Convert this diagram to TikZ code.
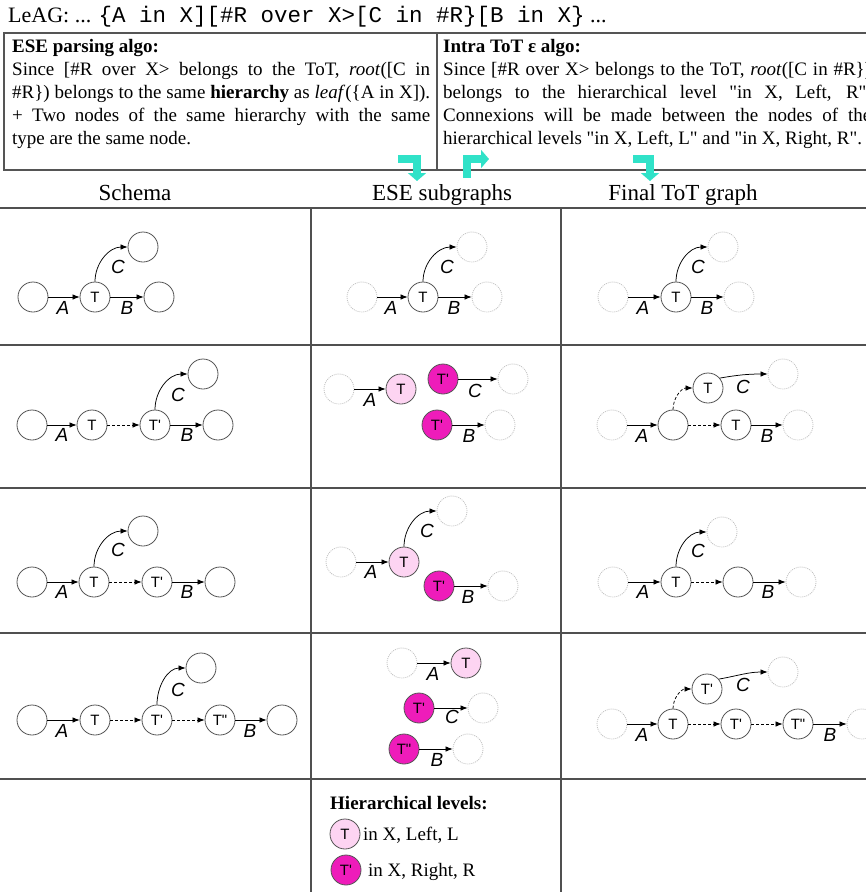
\documentclass[tikz,border=0pt]{standalone}
\usepackage{fontspec}
\newfontfamily\fserif{Liberation Serif}
\newfontfamily\fsans{Liberation Sans}
\newfontfamily\fmono{Liberation Mono}
\usetikzlibrary{arrows.meta}
\definecolor{tealA}{RGB}{48,226,200}
\definecolor{pinkL}{RGB}{253,212,242}
\definecolor{magR}{RGB}{238,28,186}
\definecolor{lineg}{RGB}{85,85,85}
\definecolor{dotg}{RGB}{195,195,195}
\definecolor{tblg}{RGB}{80,80,80}
\begin{document}
\begin{tikzpicture}[x=1pt,y=1pt,
  nd/.style={circle,draw=lineg,line width=0.8pt,minimum size=30pt,inner sep=0pt,font=\fsans\fontsize{15}{15}\selectfont},
  gh/.style={circle,draw=dotg,dash pattern=on 1pt off 1pt,line width=0.8pt,minimum size=30pt,inner sep=0pt},
  lnode/.style={nd,fill=pinkL},
  rnode/.style={nd,fill=magR},
  arr/.style={-{Latex[length=7pt,width=5.5pt]},line width=0.75pt,black},
  darr/.style={arr,dash pattern=on 3pt off 2pt},
  lab/.style={font=\fsans\itshape\fontsize{19}{19}\selectfont,inner sep=0pt},
  tbl/.style={draw=tblg,line width=1.3pt},
  hdr/.style={font=\fserif\fontsize{23}{23}\selectfont,inner sep=0pt,anchor=base},
  boxtext/.style={font=\fserif\fontsize{19}{23}\selectfont,inner sep=0pt,anchor=north west,align=justify},
  tealarr/.style={draw=tealA,line width=8pt,line join=miter,-{Triangle[length=8pt,width=18pt]}},
]
\useasboundingbox (0,0) rectangle (866,-892);
\fill[white] (0,0) rectangle (866,-892);

% title
\node[anchor=base west,inner sep=0pt,font=\fserif\fontsize{22}{22}\selectfont] (title) at (8,-22)
  {LeAG: ... {\fmono\fontsize{22.5}{22.5}\selectfont \{A in X][\#R over X>[C in \#R\}[B in X\}} ...};

% top boxes
\draw[draw=lineg,line width=1.4pt] (4,-33) rectangle (900,-170);
\draw[draw=lineg,line width=1.4pt] (437,-33) -- (437,-170);
\node[boxtext,text width=418pt] (ese) at (12,-39)
  {\textbf{ESE parsing algo:}\\
   Since [\#R over X> belongs to the ToT, \textit{root}([C in\linebreak
   \#R\}) belongs to the same \textbf{hierarchy} as \textit{leaf}(\{A in X]).\linebreak
   + Two nodes of the same hierarchy with the same\linebreak
   type are the same node.};
\node[boxtext,text width=428pt] (intra) at (443,-39)
  {\textbf{Intra ToT ε algo:}\\
   Since [\#R over X> belongs to the ToT, \textit{root}([C in \#R\})\linebreak
   belongs to the hierarchical level "in X, Left, R".\linebreak
   Connexions will be made between the nodes of the\linebreak
   hierarchical levels "in X, Left, L" and "in X, Right, R".};

% teal arrows
\draw[tealarr] (398,-159) -- (417,-159) -- (417,-181);
\draw[tealarr] (467,-178) -- (467,-159) -- (489,-159);
\draw[tealarr] (633,-159) -- (650,-159) -- (650,-181);

% headers
\node[hdr] (h1) at (135,-200) {Schema};
\node[hdr] (h2) at (442,-200) {ESE subgraphs};
\node[hdr] (h3) at (683,-200) {Final ToT graph};

% table
\draw[tbl] (0,-208) -- (866,-208);
\draw[tbl] (0,-345) -- (866,-345);
\draw[tbl] (0,-488) -- (866,-488);
\draw[tbl] (0,-633) -- (866,-633);
\draw[tbl] (0,-779) -- (866,-779);
\draw[tbl] (311,-208) -- (311,-892);
\draw[tbl] (561,-208) -- (561,-892);

% ---------- Row 1 ----------
\node[nd] (s1l) at (33,-297) {};
\node[nd] (s1t) at (95,-297) {T};
\node[nd] (s1r) at (159,-297) {};
\node[nd] (s1u) at (143,-247) {};
\draw[arr] (s1l) -- (s1t);
\draw[arr] (s1t) -- (s1r);
\draw[arr] (s1t.north) to[out=90,in=180] (s1u.west);
\node[lab] (s1A) at (63,-308) {A};
\node[lab] (s1B) at (127,-308) {B};
\node[lab] (s1C) at (118,-267) {C};

\node[gh] (e1l) at (362,-297) {};
\node[nd] (e1t) at (423,-297) {T};
\node[gh] (e1r) at (487,-297) {};
\node[gh] (e1u) at (472,-247) {};
\draw[arr] (e1l) -- (e1t);
\draw[arr] (e1t) -- (e1r);
\draw[arr] (e1t.north) to[out=90,in=180] (e1u.west);
\node[lab] (e1A) at (391,-308) {A};
\node[lab] (e1B) at (454,-308) {B};
\node[lab] (e1C) at (447,-267) {C};

\node[gh] (f1l) at (613,-297) {};
\node[nd] (f1t) at (676,-297) {T};
\node[gh] (f1r) at (739,-297) {};
\node[gh] (f1u) at (723,-247) {};
\draw[arr] (f1l) -- (f1t);
\draw[arr] (f1t) -- (f1r);
\draw[arr] (f1t.north) to[out=90,in=180] (f1u.west);
\node[lab] (f1A) at (643,-308) {A};
\node[lab] (f1B) at (707,-308) {B};
\node[lab] (f1C) at (698,-267) {C};

% ---------- Row 2 ----------
\node[nd] (s2l) at (32,-425) {};
\node[nd] (s2t) at (92,-425) {T};
\node[nd] (s2t2) at (155,-425) {T'};
\node[nd] (s2r) at (218,-425) {};
\node[nd] (s2u) at (203,-374) {};
\draw[arr] (s2l) -- (s2t);
\draw[darr] (s2t) -- (s2t2);
\draw[arr] (s2t2) -- (s2r);
\draw[arr] (s2t2.north) to[out=90,in=180] (s2u.west);
\node[lab] (s2A) at (62,-435) {A};
\node[lab] (s2B) at (187,-435) {B};
\node[lab] (s2C) at (178,-395) {C};

\node[gh] (e2l) at (339,-389) {};
\node[lnode] (e2t) at (401,-389) {T};
\node[rnode] (e2c) at (443,-379) {T'};
\node[gh] (e2cg) at (513,-379) {};
\node[rnode] (e2b) at (437,-425) {T'};
\node[gh] (e2bg) at (500,-425) {};
\draw[arr] (e2l) -- (e2t);
\draw[arr] (e2c) -- (e2cg);
\draw[arr] (e2b) -- (e2bg);
\node[lab] (e2A) at (370,-400) {A};
\node[lab] (e2C) at (475,-391) {C};
\node[lab] (e2B) at (469,-436) {B};

\node[gh] (f2l) at (612,-425) {};
\node[nd] (f2m) at (673,-425) {};
\node[nd] (f2t) at (736,-425) {T};
\node[gh] (f2r) at (798,-425) {};
\node[nd] (f2ut) at (708,-388) {T};
\node[gh] (f2uu) at (783,-374) {};
\draw[arr] (f2l) -- (f2m);
\draw[darr] (f2m) -- (f2t);
\draw[arr] (f2t) -- (f2r);
\draw[darr] (f2m.north) to[out=90,in=180] (f2ut.west);
\draw[arr] (f2ut.40) to[out=10,in=180] (f2uu.west);
\node[lab] (f2A) at (642,-436) {A};
\node[lab] (f2B) at (767,-436) {B};
\node[lab] (f2C) at (743,-387) {C};

% ---------- Row 3 ----------
\node[nd] (s3l) at (32,-582) {};
\node[nd] (s3t) at (94,-582) {T};
\node[nd] (s3t2) at (157,-582) {T'};
\node[nd] (s3r) at (220,-582) {};
\node[nd] (s3u) at (143,-531) {};
\draw[arr] (s3l) -- (s3t);
\draw[darr] (s3t) -- (s3t2);
\draw[arr] (s3t2) -- (s3r);
\draw[arr] (s3t.north) to[out=90,in=180] (s3u.west);
\node[lab] (s3A) at (62,-592) {A};
\node[lab] (s3B) at (187,-592) {B};
\node[lab] (s3C) at (118,-550) {C};

\node[gh] (e3l) at (341,-562) {};
\node[lnode] (e3t) at (404,-562) {T};
\node[gh] (e3u) at (452,-511) {};
\node[rnode] (e3t2) at (439,-586) {T'};
\node[gh] (e3r) at (503,-586) {};
\draw[arr] (e3l) -- (e3t);
\draw[arr] (e3t.north) to[out=90,in=180] (e3u.west);
\draw[arr] (e3t2) -- (e3r);
\node[lab] (e3A) at (371,-572) {A};
\node[lab] (e3C) at (427,-531) {C};
\node[lab] (e3B) at (468,-597) {B};

\node[gh] (f3l) at (613,-582) {};
\node[nd] (f3t) at (676,-582) {T};
\node[nd] (f3m) at (738,-582) {};
\node[gh] (f3r) at (801,-582) {};
\node[gh] (f3u) at (722,-532) {};
\draw[arr] (f3l) -- (f3t);
\draw[darr] (f3t) -- (f3m);
\draw[arr] (f3m) -- (f3r);
\draw[arr] (f3t.north) to[out=90,in=180] (f3u.west);
\node[lab] (f3A) at (643,-592) {A};
\node[lab] (f3B) at (768,-592) {B};
\node[lab] (f3C) at (698,-551) {C};

% ---------- Row 4 ----------
\node[nd] (s4l) at (32,-720) {};
\node[nd] (s4t) at (95,-720) {T};
\node[nd] (s4t2) at (157,-720) {T'};
\node[nd] (s4t3) at (220,-720) {T"};
\node[nd] (s4r) at (282,-720) {};
\node[nd] (s4u) at (201,-668) {};
\draw[arr] (s4l) -- (s4t);
\draw[darr] (s4t) -- (s4t2);
\draw[darr] (s4t2) -- (s4t3);
\draw[arr] (s4t3) -- (s4r);
\draw[arr] (s4t2.north) to[out=90,in=180] (s4u.west);
\node[lab] (s4A) at (62,-731) {A};
\node[lab] (s4B) at (250,-731) {B};
\node[lab] (s4C) at (178,-690) {C};

\node[gh] (e4ag) at (402,-663) {};
\node[lnode] (e4t) at (466,-663) {T};
\node[rnode] (e4t2) at (419,-708) {T'};
\node[gh] (e4cg) at (483,-708) {};
\node[rnode] (e4t3) at (404,-749) {T"};
\node[gh] (e4bg) at (468,-749) {};
\draw[arr] (e4ag) -- (e4t);
\draw[arr] (e4t2) -- (e4cg);
\draw[arr] (e4t3) -- (e4bg);
\node[lab] (e4A) at (433,-674) {A};
\node[lab] (e4C) at (452,-717) {C};
\node[lab] (e4B) at (437,-760) {B};

\node[gh] (f4l) at (612,-724) {};
\node[nd] (f4t) at (673,-724) {T};
\node[nd] (f4t2) at (736,-724) {T'};
\node[nd] (f4t3) at (798,-724) {T"};
\node[gh] (f4r) at (862,-724) {};
\node[nd] (f4ut) at (707,-689) {T'};
\node[gh] (f4uu) at (783,-672) {};
\draw[arr] (f4l) -- (f4t);
\draw[darr] (f4t) -- (f4t2);
\draw[darr] (f4t2) -- (f4t3);
\draw[arr] (f4t3) -- (f4r);
\draw[darr] (f4t.north) to[out=90,in=180] (f4ut.west);
\draw[arr] (f4ut.40) to[out=10,in=180] (f4uu.west);
\node[lab] (f4A) at (642,-735) {A};
\node[lab] (f4B) at (830,-735) {B};
\node[lab] (f4C) at (743,-685) {C};

% ---------- Legend ----------
\node[anchor=base west,inner sep=0pt,font=\fserif\bfseries\fontsize{19}{19}\selectfont] (legt) at (330,-809) {Hierarchical levels:};
\node[lnode] (legL) at (345,-834) {T};
\node[rnode] (legR) at (346,-870) {T'};
\node[anchor=base west,inner sep=0pt,font=\fserif\fontsize{19}{19}\selectfont] (legLt) at (363,-840) {in X, Left, L};
\node[anchor=base west,inner sep=0pt,font=\fserif\fontsize{19}{19}\selectfont] (legRt) at (368,-876) {in X, Right, R};
\end{tikzpicture}
\end{document}
